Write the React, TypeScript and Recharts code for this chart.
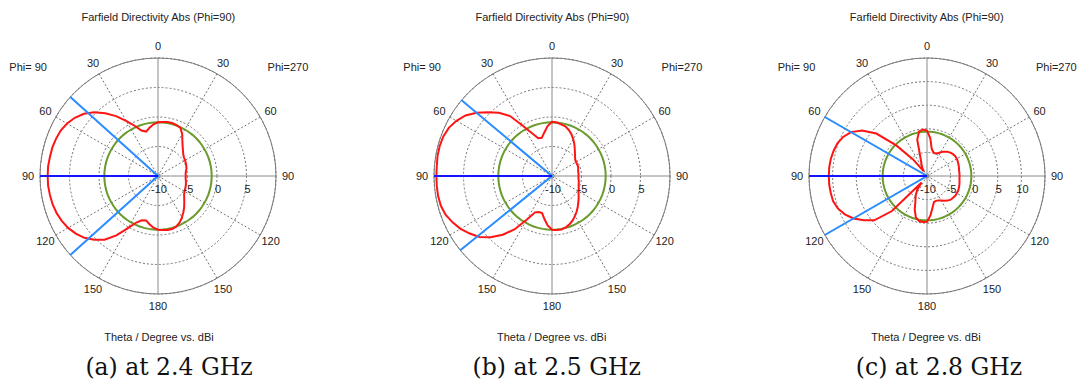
import React from 'react';
import { RadarChart, Radar, PolarGrid, PolarAngleAxis, PolarRadiusAxis } from 'recharts';

// sampled theta values (deg) for every red curve
const THETA = [
  0, 5, 10, 15, 20, 25, 30, 35, 40, 45, 50, 55, 60, 65, 70, 75, 80, 85, 90,
  95, 100, 105, 110, 115, 120, 125, 130, 135, 140, 145, 150, 155, 160, 165, 170, 175, 180,
];

// (a) 2.4 GHz
const A_PHI90 = [
  -0.9, -1.2, -1.7, -2.2, -1.8, -0.6, 0.8, 2.4, 3.9, 5.3, 6.4, 7.2, 7.8, 8.2, 8.4, 8.55, 8.6, 8.7, 8.7,
  8.7, 8.6, 8.5, 8.3, 8.0, 7.6, 7.0, 6.3, 5.3, 4.1, 2.3, 0.2, -1.3, -2.0, -2.2, -1.7, -1.2, -0.9,
];
const A_PHI270 = [
  -0.9, -0.8, -0.7, -0.7, -0.8, -1.0, -1.8, -2.8, -3.5, -4.0, -4.4, -4.6, -4.7, -4.8, -4.9, -5.0, -5.2, -5.3, -5.3,
  -5.3, -5.2, -5.1, -5.0, -4.9, -4.8, -4.6, -4.2, -3.7, -3.1, -2.5, -1.9, -1.3, -0.9, -0.7, -0.7, -0.8, -0.9,
];
const A_GREEN = -0.9;
const A_BEAM = [48, 132];
const A_RANGE = [-10, 10];
const A_TICKS = [-10, -5, 0, 5, 10];

// (b) 2.5 GHz
const B_PHI90 = [
  -0.8, -1.5, -2.5, -3.3, -3.2, -2.0, -0.2, 2.4, 4.0, 5.3, 6.7, 7.9, 8.7, 9.3, 9.6, 9.7, 9.7, 9.6, 9.6,
  9.6, 9.6, 9.5, 9.2, 8.6, 7.9, 7.0, 6.1, 4.7, 3.0, 1.0, -1.5, -3.2, -3.5, -3.5, -2.6, -1.6, -0.9,
];
const B_PHI270 = [
  -0.8, -0.9, -1.1, -1.3, -1.7, -2.2, -2.8, -3.4, -4.0, -4.5, -4.9, -5.2, -5.3, -5.3, -5.3, -5.4, -5.5, -5.5, -5.5,
  -5.5, -5.4, -5.3, -5.2, -5.0, -4.8, -4.5, -4.1, -3.7, -3.2, -2.7, -2.2, -1.7, -1.3, -1.0, -0.8, -0.8, -0.9,
];
const B_GREEN = -0.9;
const B_BEAM = [50, 129];
const B_RANGE = [-10, 10];
const B_TICKS = [-10, -5, 0, 5, 10];

// (c) 2.8 GHz
const C_PHI90 = [
  -0.4, -0.1, -0.4, -2.0, -6.0, -7.3, -8.0, -8.8, -5.4, -0.9, 4.0, 6.8, 8.6, 9.6, 10.2, 10.5, 10.7, 10.8, 10.8,
  10.8, 10.7, 10.6, 10.1, 9.2, 8.0, 6.3, 4.6, 0.5, -8.2, -6.3, -5.2, -4.2, -2.4, -0.9, -0.3, -0.2, -0.3,
];
const C_PHI270 = [
  -0.4, -2.0, -4.2, -4.8, -4.9, -4.7, -4.2, -3.7, -3.3, -3.0, -2.8, -2.7, -2.7, -2.8, -2.9, -3.0, -3.1, -3.1, -3.1,
  -3.1, -3.0, -2.9, -2.8, -2.7, -2.7, -2.7, -2.8, -2.9, -3.2, -3.6, -4.0, -4.3, -4.4, -4.3, -3.2, -1.6, -0.3,
];
const C_GREEN = -0.6;
const C_BEAM = [60, 120];
const C_RANGE = [-10, 15];
const C_TICKS = [-10, -5, 0, 5, 10, 15];

const MAIN_DIR = 90;
const ANGLE_LABELS_EVERY = 30;
const DOTTED_ANGLES = [30, 60, 120, 150, 210, 240, 300, 330];
const SOLID_ANGLES = [0, 90, 180, 270];

// pos runs clockwise from the top: 0..180 is the Phi=270 half, 180..360 the Phi=90 half
function buildCurve(phi90: number[], phi270: number[]) {
  const right = THETA.map((t, i) => ({ pos: t, red: phi270[i] }));
  const left = THETA.slice(1, -1).reverse().map((t) => ({ pos: 360 - t, red: phi90[THETA.indexOf(t)] }));
  return [...right, ...left];
}

// 1 deg rows only for the beam lines (outer edge -> centre)
function buildBeams(beam: number[], range: number[]) {
  const rows: any[] = [];
  for (let pos = 0; pos < 360; pos++) rows.push({ pos, main: null, beam: null });
  const leftPos = (t: number) => 360 - t;
  rows[leftPos(MAIN_DIR)].main = range[1];
  rows[leftPos(MAIN_DIR) + 1].main = range[0];
  beam.forEach((t) => {
    rows[leftPos(t)].beam = range[1];
    rows[leftPos(t) + 1].beam = range[0];
  });
  return rows;
}

const W = 320;
const H = 300;
const CX = 160;
const CY = 150;
const R = 118;
const LABEL_R = 130;
const FONT = '"Liberation Sans", Arial, sans-serif';

const angleTick = (p: any) => {
  const v = Number(p.payload.value);
  if (v % ANGLE_LABELS_EVERY !== 0) return <g />;
  const a = Math.atan2(p.y - CY, p.x - CX);
  const label = v <= 180 ? v : 360 - v;
  return (
    <text
      x={CX + LABEL_R * Math.cos(a)}
      y={CY + LABEL_R * Math.sin(a)}
      textAnchor="middle"
      dominantBaseline="central"
      fontSize={11}
      fontFamily={FONT}
      fill="#222"
    >
      {label}
    </text>
  );
};

function Panel({ cx, curve, beams, green, range, ticks, caption, captionX, titleX }: any) {
  const radiusTick = (p: any) => {
    if (p.payload.value === range[1]) return <g />;
    return (
      <text x={p.x + 1} y={p.y + 13} textAnchor="middle" dominantBaseline="central" fontSize={11} fontFamily={FONT} fill="#222">
        {p.payload.value}
      </text>
    );
  };
  const txt: React.CSSProperties = { position: 'absolute', fontFamily: FONT, fontSize: 11, lineHeight: '11px', color: '#222', whiteSpace: 'nowrap' };
  const box: React.CSSProperties = { position: 'absolute', left: cx - CX, top: 176 - CY };
  return (
    <>
      <div style={{ ...txt, left: cx - 100, width: 200, top: 12, textAlign: 'center' }}>Farfield Directivity Abs (Phi=90)</div>
      <div style={{ ...txt, left: cx - 149, top: 62 }}>Phi= 90</div>
      <div style={{ ...txt, left: cx + 50, width: 100, top: 62, textAlign: 'right' }}>Phi=270</div>
      <div style={box}>
        <RadarChart width={W} height={H} cx={CX} cy={CY} outerRadius={R} data={curve} margin={{ top: 0, right: 0, bottom: 0, left: 0 }}>
          <PolarGrid gridType="circle" polarAngles={DOTTED_ANGLES} stroke="#747474" strokeDasharray="2 2" />
          <PolarGrid gridType="circle" polarAngles={SOLID_ANGLES} polarRadius={[]} stroke="#8a8a8a" />
          <PolarGrid gridType="circle" polarAngles={[]} polarRadius={[1.5]} stroke="#9a9a9a" strokeWidth={2.5} />
          <PolarAngleAxis dataKey="pos" axisLineType="circle" axisLine={{ stroke: '#7a7a7a' }} tickLine={false} tick={angleTick} />
          <PolarRadiusAxis angle={0} type="number" domain={range} ticks={ticks} tickCount={ticks.length} axisLine={false} tick={radiusTick} />
          <Radar dataKey={() => green} stroke="#6a9a2c" strokeWidth={2} fill="none" fillOpacity={0} dot={false} isAnimationActive={false} />
          <Radar dataKey="red" stroke="#ff1414" strokeWidth={2} fill="none" fillOpacity={0} dot={false} isAnimationActive={false} />
        </RadarChart>
      </div>
      <div style={box}>
        <RadarChart width={W} height={H} cx={CX} cy={CY} outerRadius={R} data={beams} margin={{ top: 0, right: 0, bottom: 0, left: 0 }}>
          <PolarAngleAxis dataKey="pos" axisLine={false} tickLine={false} tick={false} />
          <PolarRadiusAxis angle={0} type="number" domain={range} tickCount={ticks.length} axisLine={false} tick={false} />
          <Radar dataKey="beam" stroke="#2a8cff" strokeWidth={2} fill="none" fillOpacity={0} dot={false} isAnimationActive={false} />
          <Radar dataKey="main" stroke="#1414ff" strokeWidth={2} fill="none" fillOpacity={0} dot={false} isAnimationActive={false} />
        </RadarChart>
      </div>
      <div style={{ ...txt, left: titleX - 100, width: 200, top: 332, textAlign: 'center' }}>Theta / Degree vs. dBi</div>
      <div
        style={{
          position: 'absolute',
          left: captionX - 120,
          width: 240,
          top: 356,
          textAlign: 'center',
          fontFamily: '"DejaVu Serif", serif',
          fontSize: 23.5,
          lineHeight: '23.5px',
          color: '#111',
          whiteSpace: 'nowrap',
        }}
      >
        {caption}
      </div>
    </>
  );
}

export default function App() {
  return (
    <div style={{ position: 'absolute', left: 0, top: 0, width: 1082, height: 391, background: '#fff', overflow: 'hidden' }}>
      <Panel cx={158.3} curve={buildCurve(A_PHI90, A_PHI270)} beams={buildBeams(A_BEAM, A_RANGE)} green={A_GREEN} range={A_RANGE}
        ticks={A_TICKS} caption="(a) at 2.4 GHz" captionX={169} titleX={159} />
      <Panel cx={552.3} curve={buildCurve(B_PHI90, B_PHI270)} beams={buildBeams(B_BEAM, B_RANGE)} green={B_GREEN} range={B_RANGE}
        ticks={B_TICKS} caption="(b) at 2.5 GHz" captionX={556.7} titleX={551.7} />
      <Panel cx={926.7} curve={buildCurve(C_PHI90, C_PHI270)} beams={buildBeams(C_BEAM, C_RANGE)} green={C_GREEN} range={C_RANGE}
        ticks={C_TICKS} caption="(c) at 2.8 GHz" captionX={939} titleX={926} />
    </div>
  );
}
